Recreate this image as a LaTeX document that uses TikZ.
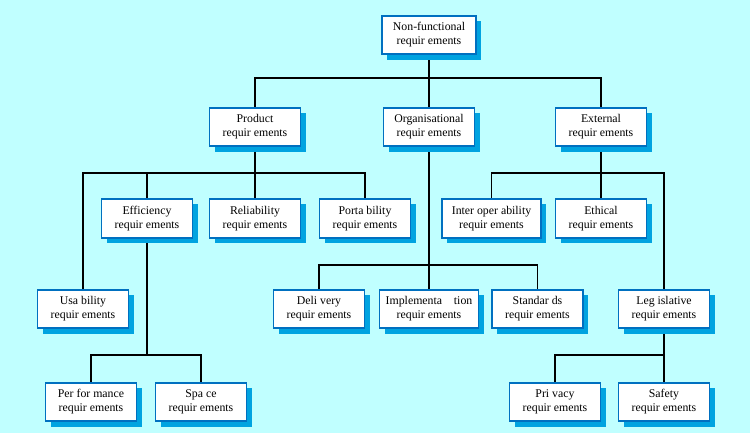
\documentclass[tikz,border=0pt]{standalone}
\usepackage{fontspec}
\setmainfont{Liberation Serif}
\usetikzlibrary{shadows,backgrounds}
\definecolor{bgcyan}{RGB}{192,255,255}
\definecolor{boxblue}{RGB}{0,112,192}
\definecolor{shadeblue}{RGB}{0,163,224}

\begin{document}
\begin{tikzpicture}[x=0.025cm,y=-0.025cm,
  req/.style={draw=boxblue,line width=1.3pt,fill=white,align=center,
    font=\fontsize{8.4}{10}\selectfont,minimum width=2.275cm,minimum height=0.97cm,inner sep=1pt,
    drop shadow={shadow xshift=3.8pt,shadow yshift=-3.8pt,fill=shadeblue,opacity=1}},
  link/.style={line width=1.3pt}]
\useasboundingbox (0,0) rectangle (750,433);
% bus lines of the tree
\coordinate (bus0) at (429,78);
\coordinate (busprod) at (255,173);
\coordinate (busorg) at (429,265);
\coordinate (busext) at (601,173);
\coordinate (buseff) at (147,355);
\coordinate (buslegis) at (664,355);
% top level
\node[req,minimum width=2.35cm] (root) at (429,35) {Non-functional\\requir ements};
\node[req] (prod) at (255,127) {Product\\requir ements};
\node[req] (org) at (429,127) {Organisational\\requir ements};
\node[req] (ext) at (601,127) {External\\requir ements};
% second row
\node[req] (eff) at (147,218.5) {Efficiency\\requir ements};
\node[req] (rel) at (255,218.5) {Reliability\\requir ements};
\node[req] (port) at (365,218.5) {Porta bility\\requir ements};
\node[req,minimum width=2.475cm] (interop) at (491.5,218.5) {Inter oper ability\\requir ements};
\node[req] (eth) at (601,218.5) {Ethical\\requir ements};
% third row
\node[req] (usab) at (83,309) {Usa bility\\requir ements};
\node[req] (deliv) at (319,309) {Deli very\\requir ements};
\node[req,minimum width=2.475cm] (impl) at (429,309) {Implementa\quad tion\\requir ements};
\node[req] (stand) at (537.5,309) {Standar ds\\requir ements};
\node[req] (legis) at (664,309) {Leg islative\\requir ements};
% bottom row
\node[req] (perf) at (91,402) {Per for mance\\requir ements};
\node[req] (space) at (201,402) {Spa ce\\requir ements};
\node[req] (priv) at (555,402) {Pri vacy\\requir ements};
\node[req] (safe) at (664,402) {Safety\\requir ements};
% connectors, behind the boxes
\begin{scope}[on background layer]
\fill[bgcyan] (0,0) rectangle (750,433);
\foreach \c in {prod,org,ext}
  \draw[link] (root.south) -- (root.south |- bus0) -| (\c.north);
\foreach \c in {usab,eff,rel,port}
  \draw[link] (prod.south) -- (prod.south |- busprod) -| (\c.north);
\foreach \c in {deliv,impl,stand}
  \draw[link] (org.south) -- (org.south |- busorg) -| (\c.north);
\foreach \c in {interop,eth,legis}
  \draw[link] (ext.south) -- (ext.south |- busext) -| (\c.north);
\foreach \c in {perf,space}
  \draw[link] (eff.south) -- (eff.south |- buseff) -| (\c.north);
\foreach \c in {priv,safe}
  \draw[link] (legis.south) -- (legis.south |- buslegis) -| (\c.north);
\end{scope}
\end{tikzpicture}
\end{document}
